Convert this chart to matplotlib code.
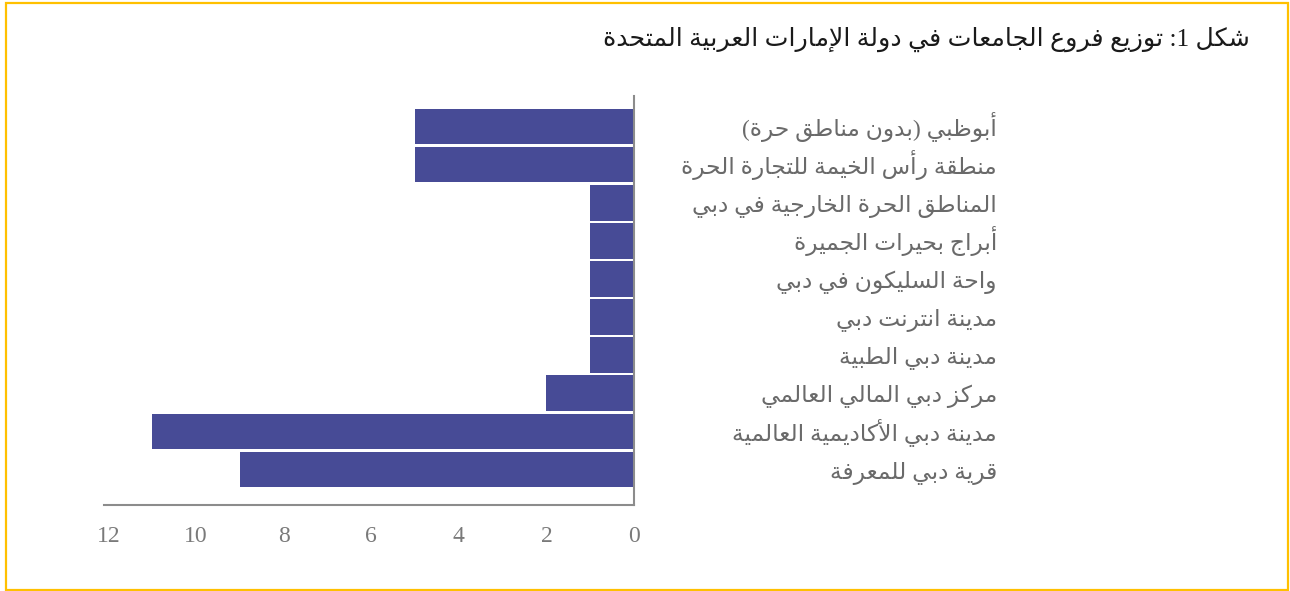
import matplotlib
matplotlib.use("Agg")
import matplotlib.pyplot as plt
from matplotlib.patches import Rectangle
from matplotlib.transforms import blended_transform_factory

# ---------------- data ----------------
title = "شكل 1: توزيع فروع الجامعات في دولة الإمارات العربية المتحدة"
categories = [
    "أبوظبي (بدون مناطق حرة)",
    "منطقة رأس الخيمة للتجارة الحرة",
    "المناطق الحرة الخارجية في دبي",
    "أبراج بحيرات الجميرة",
    "واحة السليكون في دبي",
    "مدينة انترنت دبي",
    "مدينة دبي الطبية",
    "مركز دبي المالي العالمي",
    "مدينة دبي الأكاديمية العالمية",
    "قرية دبي للمعرفة",
]
values = [5, 5, 1, 1, 1, 1, 1, 2, 11, 9]
xticks = [0, 2, 4, 6, 8, 10, 12]

# ---------------- minimal Arabic shaping (presentation forms + RTL) ----------------
def _dual(b):
    return (b, b + 1, b + 2, b + 3)

def _right(b):
    return (b, b + 1, None, None)

FORMS = {
    "ء": (0xFE80, None, None, None),
    "آ": _right(0xFE81), "أ": _right(0xFE83), "ؤ": _right(0xFE85),
    "إ": _right(0xFE87), "ئ": _dual(0xFE89), "ا": _right(0xFE8D),
    "ب": _dual(0xFE8F), "ة": _right(0xFE93), "ت": _dual(0xFE95),
    "ث": _dual(0xFE99), "ج": _dual(0xFE9D), "ح": _dual(0xFEA1),
    "خ": _dual(0xFEA5), "د": _right(0xFEA9), "ذ": _right(0xFEAB),
    "ر": _right(0xFEAD), "ز": _right(0xFEAF), "س": _dual(0xFEB1),
    "ش": _dual(0xFEB5), "ص": _dual(0xFEB9), "ض": _dual(0xFEBD),
    "ط": _dual(0xFEC1), "ظ": _dual(0xFEC5), "ع": _dual(0xFEC9),
    "غ": _dual(0xFECD), "ف": _dual(0xFED1), "ق": _dual(0xFED5),
    "ك": _dual(0xFED9), "ل": _dual(0xFEDD), "م": _dual(0xFEE1),
    "ن": _dual(0xFEE5), "ه": _dual(0xFEE9), "و": _right(0xFEED),
    "ى": _right(0xFEEF), "ي": _dual(0xFEF1),
}
LAMALEF = {"آ": _right(0xFEF5), "أ": _right(0xFEF7),
           "إ": _right(0xFEF9), "ا": _right(0xFEFB)}


def shape(text):
    toks = []
    i = 0
    while i < len(text):
        c = text[i]
        if c == "ل" and i + 1 < len(text) and text[i + 1] in LAMALEF:
            toks.append(LAMALEF[text[i + 1]])
            i += 2
            continue
        toks.append(FORMS.get(c, c))
        i += 1
    out = []
    for k, t in enumerate(toks):
        if isinstance(t, str):
            out.append(t)
            continue
        prev = toks[k - 1] if k > 0 else None
        nxt = toks[k + 1] if k + 1 < len(toks) else None
        jp = (not isinstance(prev, str) and prev is not None
              and prev[2] is not None and t[1] is not None)
        jn = (t[2] is not None and nxt is not None
              and not isinstance(nxt, str) and nxt[1] is not None)
        if jp and jn:
            cp = t[3]
        elif jp:
            cp = t[1]
        elif jn:
            cp = t[2]
        else:
            cp = t[0]
        out.append(chr(cp))
    # visual (RTL) order, keeping digit runs LTR
    runs = []
    for ch in out:
        if ch.isdigit() and runs and runs[-1][0].isdigit():
            runs[-1] += ch
        else:
            runs.append(ch)
    runs.reverse()
    s = "".join(runs)
    s = s.replace("(", "\0").replace(")", "(").replace("\0", ")")
    return s


# ---------------- style ----------------
BAR = "#474B96"
AXIS = "#8C8C8C"
TICK = "#7A7A7A"
LABEL = "#6A6A6A"
BORDER = "#FFC000"
FAM = ["Liberation Serif", "DejaVu Sans"]

W, H = 1290, 591
fig = plt.figure(figsize=(W / 100, H / 100), dpi=100, facecolor="white")

ax_left, ax_right = 104.3, 634.0
ax_top, ax_bot = 96.0, 505.0
ax = fig.add_axes([ax_left / W, 1 - ax_bot / H,
                   (ax_right - ax_left) / W, (ax_bot - ax_top) / H])

ypos = list(range(len(categories)))
ax.barh(ypos, values, height=0.935, color=BAR, zorder=2)
ax.set_xlim(12.1, 0)
ax.set_ylim(9.93, -0.80)

for s in ("left", "top"):
    ax.spines[s].set_visible(False)
for s in ("bottom", "right"):
    ax.spines[s].set_color(AXIS)
    ax.spines[s].set_linewidth(1.5)

ax.set_xticks(xticks)
ax.set_xticklabels([str(v) for v in xticks], family=FAM, fontsize=17, color=TICK)
ax.tick_params(axis="x", length=0, pad=15)
ax.set_yticks([])

# category labels, right-aligned to the right of the plot
trans = blended_transform_factory(fig.transFigure, ax.transData)
for y, c in zip(ypos, categories):
    ax.text(997 / W, y + 0.24, shape(c), transform=trans, ha="right",
            va="baseline", family=FAM, fontsize=16.8, color=LABEL,
            clip_on=False)

fig.text(1250 / W, 1 - 46 / H, shape(title), ha="right", va="baseline",
         family=FAM, fontsize=18.2, color="#1A1A1A")

fig.patches.append(Rectangle((5.7 / W, 1 - 589.7 / H),
                             (1288.3 - 5.7) / W, (589.7 - 2.7) / H,
                             transform=fig.transFigure, fill=False,
                             edgecolor=BORDER, linewidth=1.6))

fig.savefig("out.png", dpi=100, facecolor="white")
